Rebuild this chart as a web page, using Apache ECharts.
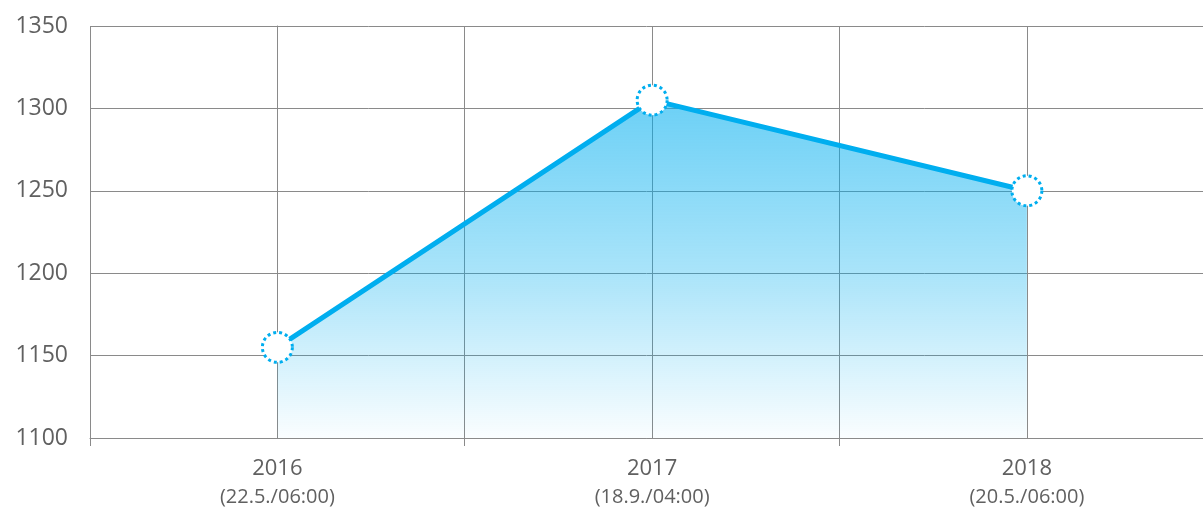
<!DOCTYPE html>
<html>
<head>
<meta charset="utf-8">
<script src="https://cdn.jsdelivr.net/npm/echarts@6/dist/echarts.min.js"></script>
<style>
  html, body { margin: 0; padding: 0; background: #ffffff; }
  #chart { width: 1203px; height: 508px; }
</style>
</head>
<body>
<div id="chart"></div>
<script>
const years = ["2016", "2017", "2018"];
const dates = ["(22.5./06:00)", "(18.9./04:00)", "(20.5./06:00)"];
const values = [1155, 1305, 1250];
const yMin = 1100;
const yMax = 1350;
const yStep = 50;

// x runs in "category units": one year per unit, the plot is cut on the right
const xMin = -0.5;
const xMax = 2.47;
const xTicks = [-0.5, 0.5, 1.5];

const lineColor = "#00aeef";
const gridColor = "#8a8a8a";
const fontFamily = "'Open Sans', Lato, sans-serif";

const myChart = echarts.init(document.getElementById("chart"));
const option = {
  animation: false,
  grid: {
    left: 90,
    right: 0,
    top: 26,
    bottom: 70
  },
  xAxis: [
    {
      type: "value",
      min: xMin,
      max: xMax,
      interval: 0.5,
      axisLine: { onZero: false, lineStyle: { color: gridColor, width: 1 } },
      axisTick: { show: true, length: 8, customValues: xTicks, lineStyle: { color: gridColor } },
      splitLine: { show: false },
      axisLabel: {
        margin: 16,
        customValues: years.map((y, i) => i),
        formatter: value => {
          const i = Math.round(value);
          return `{y|${years[i]}}\n{d|${dates[i]}}`;
        },
        rich: {
          y: { fontSize: 22, color: "#606060", fontFamily: fontFamily, lineHeight: 30 },
          d: { fontSize: 20, color: "#606060", fontFamily: fontFamily, lineHeight: 26 }
        }
      }
    },
    {
      // extra axis only for the vertical grid lines at every half unit
      type: "value",
      min: xMin,
      max: xMax,
      interval: 0.5,
      axisLine: { show: false },
      axisTick: { show: false },
      axisLabel: { show: false },
      splitLine: { show: true, lineStyle: { color: gridColor, width: 1 } }
    }
  ],
  yAxis: {
    type: "value",
    min: yMin,
    max: yMax,
    interval: yStep,
    axisLine: { show: true, lineStyle: { color: gridColor, width: 1 } },
    axisTick: { show: true, length: 10, lineStyle: { color: gridColor } },
    splitLine: { show: true, lineStyle: { color: gridColor, width: 1 } },
    axisLabel: {
      margin: 22,
      fontSize: 23,
      color: "#606060",
      fontFamily: fontFamily,
      formatter: value => String(value)
    }
  },
  series: [
    {
      type: "line",
      xAxisIndex: 0,
      data: values.map((v, i) => [i, v]),
      symbol: "circle",
      symbolSize: 30,
      z: 3,
      lineStyle: { color: lineColor, width: 5 },
      itemStyle: {
        color: "#ffffff",
        borderColor: lineColor,
        borderWidth: 3,
        borderType: "dotted"
      },
      areaStyle: {
        opacity: 1,
        color: new echarts.graphic.LinearGradient(0, 0, 0, 1, [
          { offset: 0, color: "rgba(0, 174, 239, 0.58)" },
          { offset: 0.5, color: "rgba(0, 174, 239, 0.34)" },
          { offset: 1, color: "rgba(0, 174, 239, 0.02)" }
        ])
      }
    }
  ]
};
myChart.setOption(option);
</script>
</body>
</html>
